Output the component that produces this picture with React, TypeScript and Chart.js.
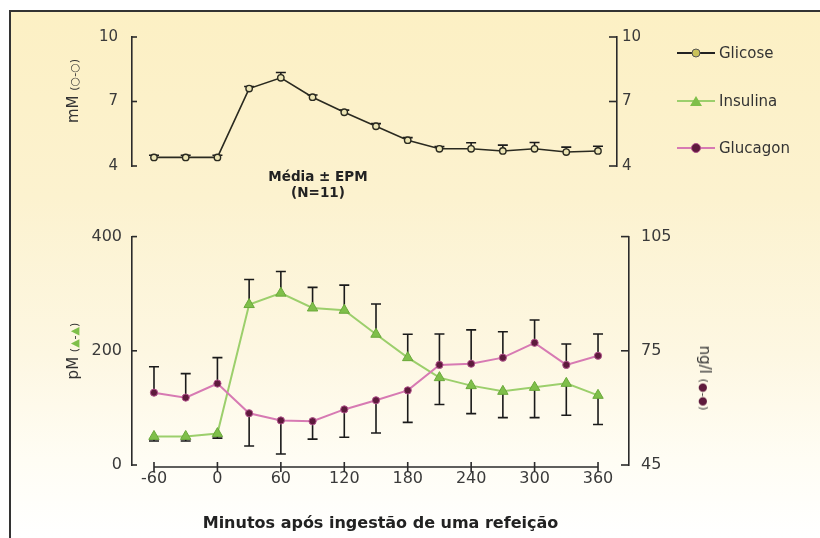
import React, { useEffect, useRef } from "react";
import { Chart, registerables } from "chart.js";

Chart.register(...registerables);

// ---- data ----
const minutes = [-60, -30, 0, 30, 60, 90, 120, 150, 180, 210, 240, 270, 300, 330, 360];
const xTicks = [-60, 0, 60, 120, 180, 240, 300, 360];
const glucose = [4.4, 4.4, 4.4, 7.6, 8.1, 7.2, 6.5, 5.85, 5.2, 4.8, 4.8, 4.7, 4.8, 4.65, 4.7];
const glucoseErr = [0.1, 0.1, 0.1, 0.1, 0.25, 0.1, 0.1, 0.12, 0.12, 0.1, 0.28, 0.27, 0.29, 0.23, 0.22];
const insulin = [50, 50, 55, 281, 301, 275, 271, 229, 188, 153, 139, 129, 136, 143, 122];
const insulinErr = [-8, -8, -8, 44, 38, 36, 44, 53, 41, -47, -49, -46, -53, -56, -51];
const glucagon = [64.0, 62.7, 66.4, 58.6, 56.7, 56.5, 59.6, 62.0, 64.6, 71.3, 71.6, 73.2, 77.1, 71.3, 73.7];
const glucagonErr = [6.8, 6.3, 6.8, -8.6, -8.8, -4.7, -7.3, -8.6, -8.4, 8.1, 8.9, 6.8, 6.0, 5.5, 5.7];
const mMTicks = [4, 7, 10];
const pMTicks = [0, 200, 400];
const ngTicks = [45, 75, 105];

const FONT = "'DejaVu Sans', 'Liberation Sans', sans-serif";
const INK = "#2b2b2b";
const GREEN_LINE = "#9ccf6c";
const GREEN_MARK = "#7fbf4a";
const PINK_LINE = "#d77ab3";
const MAROON = "#5e1a3c";

const toPts = (vals: number[]) => minutes.map((m, i) => ({ x: m, y: vals[i] }));

const errorBars = {
  id: "errorBars",
  beforeDatasetsDraw(chart: any) {
    const ctx = chart.ctx;
    ctx.save();
    ctx.strokeStyle = "#1a1a1a";
    ctx.lineWidth = 1.6;
    chart.data.datasets.forEach((ds: any, i: number) => {
      if (!ds.errors) return;
      const meta = chart.getDatasetMeta(i);
      const scale = chart.scales[meta.yAxisID];
      meta.data.forEach((pt: any, j: number) => {
        const e = ds.errors[j];
        const y1 = scale.getPixelForValue(ds.data[j].y + e);
        ctx.beginPath();
        ctx.moveTo(pt.x, pt.y);
        ctx.lineTo(pt.x, y1);
        ctx.moveTo(pt.x - 5, y1);
        ctx.lineTo(pt.x + 5, y1);
        ctx.stroke();
      });
    });
    ctx.restore();
  },
};

const axisDeco = {
  id: "axisDeco",
  afterDraw(chart: any) {
    const ctx = chart.ctx;
    ctx.save();
    ctx.strokeStyle = INK;
    ctx.lineWidth = 1.6;
    Object.values(chart.scales).forEach((s: any) => {
      if (s.axis === "y") {
        const left = s.position === "left";
        const x0 = left ? s.right : s.left;
        const len = left ? 5 : -8;
        s.ticks.forEach((t: any) => {
          const y = s.getPixelForValue(t.value);
          ctx.beginPath();
          ctx.moveTo(x0, y);
          ctx.lineTo(x0 + len, y);
          ctx.stroke();
        });
      } else if (s.axis === "x" && s.options.display) {
        const y = chart.chartArea.bottom + 2;
        const xa = s.getPixelForValue(xTicks[0]);
        const xb = s.getPixelForValue(xTicks[xTicks.length - 1]);
        ctx.beginPath();
        ctx.moveTo(xa, y);
        ctx.lineTo(xb, y);
        xTicks.forEach((v) => {
          const x = s.getPixelForValue(v);
          ctx.moveTo(x, y - 5);
          ctx.lineTo(x, y + 5);
        });
        ctx.stroke();
      }
    });
    ctx.restore();
  },
};

function yAxis(position: "left" | "right", min: number, max: number, ticks: number[], size: number, pad: number) {
  return {
    type: "linear",
    position,
    min,
    max,
    afterFit: (s: any) => {
      s.width = 60;
    },
    afterBuildTicks: (s: any) => {
      s.ticks = ticks.map((v) => ({ value: v }));
    },
    grid: { display: true, drawOnChartArea: false, drawTicks: false, color: "transparent" },
    border: { display: true, color: INK, width: 1.6 },
    ticks: { color: "#3a3a3a", font: { size, family: FONT }, padding: pad },
  };
}

export default function App() {
  const topRef = useRef<HTMLCanvasElement>(null);
  const botRef = useRef<HTMLCanvasElement>(null);

  useEffect(() => {
    const top = new Chart(topRef.current as HTMLCanvasElement, {
      type: "line",
      data: {
        datasets: [
          {
            label: "Glicose",
            data: toPts(glucose),
            errors: glucoseErr,
            yAxisID: "y",
            borderColor: "#2a2a20",
            borderWidth: 1.6,
            pointRadius: 3.2,
            pointBorderWidth: 1.4,
            pointBackgroundColor: "#ece5b4",
            pointBorderColor: "#2a2a20",
            tension: 0,
          } as any,
        ],
      },
      options: {
        animation: false,
        responsive: false,
        layout: { padding: { left: 72, right: 143, top: 37, bottom: 49 } },
        plugins: { legend: { display: false }, tooltip: { enabled: false } },
        scales: {
          x: { type: "linear", min: -80.8, max: 378, display: false },
          y: yAxis("left", 4, 10, mMTicks, 15, 14),
          y2: yAxis("right", 4, 10, mMTicks, 15, 5),
        } as any,
      },
      plugins: [errorBars, axisDeco],
    });

    const bot = new Chart(botRef.current as HTMLCanvasElement, {
      type: "line",
      data: {
        datasets: [
          {
            label: "Glucagon",
            data: toPts(glucagon),
            errors: glucagonErr,
            yAxisID: "y2",
            borderColor: PINK_LINE,
            borderWidth: 2,
            pointRadius: 3.6,
            pointBorderWidth: 1,
            pointBackgroundColor: MAROON,
            pointBorderColor: "#b0508a",
            tension: 0,
          } as any,
          {
            label: "Insulina",
            data: toPts(insulin),
            errors: insulinErr,
            yAxisID: "y",
            borderColor: GREEN_LINE,
            borderWidth: 2,
            pointStyle: "triangle",
            pointRadius: 6,
            pointBorderWidth: 1,
            pointBackgroundColor: GREEN_MARK,
            pointBorderColor: "#6aa83a",
            tension: 0,
          } as any,
        ],
      },
      options: {
        animation: false,
        responsive: false,
        layout: { padding: { left: 72, right: 131, top: 20, bottom: 0 } },
        plugins: { legend: { display: false }, tooltip: { enabled: false } },
        scales: {
          x: {
            type: "linear",
            min: -80.8,
            max: 389.3,
            afterFit: (s: any) => {
              s.height = 73;
            },
            afterBuildTicks: (s: any) => {
              s.ticks = xTicks.map((v) => ({ value: v }));
            },
            grid: { display: false, drawTicks: false },
            border: { display: false },
            ticks: {
              autoSkip: false,
              maxRotation: 0,
              color: "#3a3a3a",
              font: { size: 16, family: FONT },
              padding: 4,
            },
            title: {
              display: true,
              text: "Minutos após ingestão de uma refeição",
              color: "#222",
              font: { size: 16, weight: "bold", family: FONT },
              padding: { top: 0, bottom: 5 },
            },
          },
          y: yAxis("left", 0, 400, pMTicks, 16, 10),
          y2: yAxis("right", 45, 105, ngTicks, 16, 12),
        } as any,
      },
      plugins: [errorBars, axisDeco],
    });

    return () => {
      top.destroy();
      bot.destroy();
    };
  }, []);

  const abs: React.CSSProperties = { position: "absolute" };
  const rot = (x: number, y: number, deg: number): React.CSSProperties => ({
    position: "absolute",
    left: x,
    top: y,
    transform: `translate(-50%, -50%) rotate(${deg}deg)`,
    whiteSpace: "nowrap",
    fontFamily: FONT,
    fontSize: 15,
    color: "#333",
  });

  const legendRow = (y: number, lineColor: string, marker: React.ReactNode, text: string) => (
    <div style={{ ...abs, left: 677, top: y - 10, height: 20, width: 140 }}>
      <div style={{ ...abs, left: 0, top: 9, width: 38, height: 2, background: lineColor }} />
      <div style={{ ...abs, left: 19, top: 10, transform: "translate(-50%,-50%)" }}>{marker}</div>
      <div style={{ ...abs, left: 42, top: 0, lineHeight: "20px", fontFamily: FONT, fontSize: 15, color: "#333" }}>{text}</div>
    </div>
  );

  return (
    <div style={{ position: "absolute", left: 0, top: 0, width: 820, height: 538, background: "#fff", overflow: "hidden" }}>
      <div
        style={{
          ...abs,
          left: 9,
          top: 10,
          right: 0,
          bottom: 0,
          borderTop: "2px solid #333",
          borderLeft: "2px solid #333",
          background: "linear-gradient(to bottom, #fcf0c4 0%, #fcf2cf 35%, #fdf7e2 65%, #fffdf4 85%, #ffffff 100%)",
        }}
      />
      <canvas ref={topRef} width={820} height={215} style={{ ...abs, left: 0, top: 0 }} />
      <canvas ref={botRef} width={820} height={323} style={{ ...abs, left: 0, top: 215 }} />

      <div style={rot(73, 91, -90)}>
        mM <span style={{ fontSize: 11 }}>(○-○)</span>
      </div>
      <div style={rot(73, 351, -90)}>
        pM <span style={{ fontSize: 11 }}>(<span style={{ color: GREEN_MARK }}>▲</span>-<span style={{ color: GREEN_MARK }}>▲</span>)</span>
      </div>
      <div style={rot(705, 378, 90)}>
        ng/l <span style={{ fontSize: 11 }}>(<span style={{ color: MAROON }}>●</span>-<span style={{ color: MAROON }}>●</span>)</span>
      </div>

      <div style={{ ...abs, left: 318, top: 168, transform: "translateX(-50%)", textAlign: "center", fontFamily: FONT, fontWeight: "bold", fontSize: 13.5, lineHeight: "16px", color: "#222", whiteSpace: "nowrap" }}>
        Média ± EPM
        <br />
        (N=11)
      </div>

      {legendRow(
        53,
        "#222",
        <div style={{ width: 7, height: 7, borderRadius: "50%", background: "#c9c25a", border: "1.5px solid #555" }} />,
        "Glicose"
      )}
      {legendRow(
        101,
        GREEN_LINE,
        <div style={{ width: 0, height: 0, borderLeft: "6px solid transparent", borderRight: "6px solid transparent", borderBottom: "10px solid " + GREEN_MARK }} />,
        "Insulina"
      )}
      {legendRow(
        148,
        PINK_LINE,
        <div style={{ width: 8, height: 8, borderRadius: "50%", background: MAROON, border: "1px solid #b0508a" }} />,
        "Glucagon"
      )}
    </div>
  );
}
